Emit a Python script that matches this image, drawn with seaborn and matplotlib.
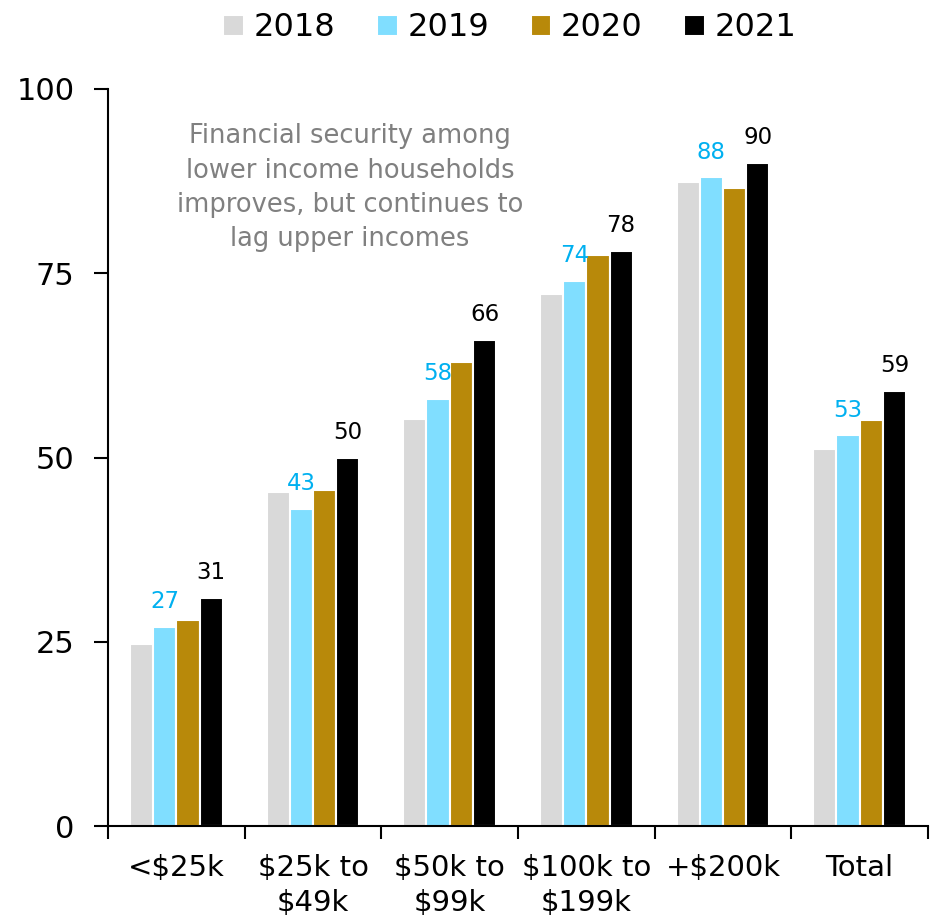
import numpy as np
import pandas as pd
import matplotlib
matplotlib.use("Agg")
import matplotlib.pyplot as plt
import seaborn as sns

# Share of households reporting financial security, by income band and year
categories = ["<$25k", "$25k to\n$49k", "$50k to\n$99k", "$100k to\n$199k", "+$200k", "Total"]
years = ["2018", "2019", "2020", "2021"]
v2018 = [24.7, 45.3, 55.2, 72.2, 87.4, 51.1]
v2019 = [27, 43, 58, 74, 88, 53]
v2020 = [28.0, 45.6, 62.9, 77.5, 86.5, 55.1]
v2021 = [31, 50, 66, 78, 90, 59]
y_ticks = [0, 25, 50, 75, 100]
note = ("Financial security among\nlower income households\n"
        "improves, but continues to\nlag upper incomes")

colors = ["#D9D9D9", "#80DEFF", "#B8890A", "#000000"]
label_colors = {"2019": "#00B0F0", "2021": "#000000"}

df = pd.DataFrame({
    "category": categories * 4,
    "year": np.repeat(years, len(categories)),
    "value": v2018 + v2019 + v2020 + v2021,
})

sns.set_theme(style="ticks")
plt.rcParams["font.family"] = ["DejaVu Sans"]
plt.rcParams["text.color"] = "black"

fig = plt.figure(figsize=(9.3, 9.19), dpi=100)
ax = fig.add_axes([108 / 930, 1 - 826 / 919, (928 - 108) / 930, (826 - 89) / 919])

sns.barplot(data=df, x="category", y="value", hue="year", order=categories,
            hue_order=years, palette=colors, saturation=1, width=0.68,
            edgecolor="white", linewidth=1.5, ax=ax)

# value labels for 2019 and 2021
for i, yr in enumerate(years):
    if yr in label_colors:
        ax.bar_label(ax.containers[i], fmt="%.0f", padding=10,
                     color=label_colors[yr], fontsize=16.5)

ax.set_xlim(-0.5, len(categories) - 0.5)
ax.set_ylim(0, 100)
ax.set_yticks(y_ticks)
ax.set_xticks(range(len(categories)))
ax.set_xticklabels(categories, linespacing=1.35)
ax.set_xticks(np.arange(-0.5, len(categories), 1), minor=True)
ax.set_xlabel("")
ax.set_ylabel("")

ax.tick_params(axis="x", which="major", length=0, pad=20, labelsize=21, colors="black")
ax.tick_params(axis="x", which="minor", length=9, width=1.5, color="black")
ax.tick_params(axis="y", length=10, width=1.5, pad=14, labelsize=22, colors="black")

for side in ["top", "right"]:
    ax.spines[side].set_visible(False)
for side in ["left", "bottom"]:
    ax.spines[side].set_color("black")
    ax.spines[side].set_linewidth(1.5)

ax.text(1.27, 86.6, note, ha="center", va="center", color="#808080",
        fontsize=18.5, linespacing=1.42)

handles, labels = ax.get_legend_handles_labels()
ax.get_legend().remove()
leg = fig.legend(handles, labels, loc="center", bbox_to_anchor=(510 / 930, 1 - 28 / 919),
                 ncol=4, frameon=False, fontsize=23, handlelength=0.65, handleheight=0.65,
                 handletextpad=0.3, columnspacing=1.3)
for t in leg.get_texts():
    t.set_color("black")

fig.savefig("out.png", dpi=100, facecolor="white")
